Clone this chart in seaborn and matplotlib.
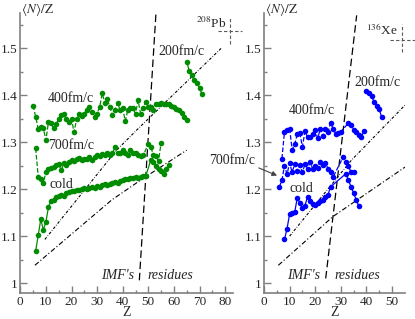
import numpy as np
import pandas as pd
import matplotlib
matplotlib.use("Agg")
import matplotlib.pyplot as plt
import seaborn as sns

sns.set_style("ticks")
plt.rcParams['font.family'] = ['Liberation Serif', 'DejaVu Serif']
plt.rcParams['mathtext.fontset'] = 'stix'

# ---------------- Left panel (208Pb, green) ----------------
pb_400_z = list(range(5, 66))
pb_400_v = [1.378, 1.354, 1.329, 1.333, 1.330, 1.304, 1.343, 1.340, 1.330, 1.338,
            1.350, 1.357, 1.360, 1.349, 1.343, 1.350, 1.321, 1.350, 1.359, 1.356,
            1.361, 1.368, 1.375, 1.364, 1.354, 1.361, 1.375, 1.404, 1.384, 1.391,
            1.375, 1.357, 1.368, 1.384, 1.368, 1.372, 1.345, 1.368, 1.372, 1.372,
            1.361, 1.389, 1.361, 1.372, 1.386, 1.375, 1.374, 1.368, 1.382, 1.382,
            1.384, 1.381, 1.382, 1.382, 1.377, 1.374, 1.371, 1.368, 1.362, 1.354,
            1.348]

pb_700_z = list(range(6, 49)) + [50, 51, 52, 53, 54, 55]
pb_700_v = [1.287, 1.226, 1.222, 1.213, 1.236, 1.243, 1.245, 1.248, 1.252, 1.254,
            1.240, 1.255, 1.252, 1.258, 1.262, 1.260, 1.264, 1.266, 1.262, 1.265,
            1.265, 1.268, 1.262, 1.268, 1.272, 1.270, 1.275, 1.272, 1.278, 1.272,
            1.276, 1.290, 1.276, 1.278, 1.284, 1.278, 1.272, 1.284, 1.278, 1.276,
            1.272, 1.270, 1.272,
            1.296, 1.290, 1.272, 1.270, 1.260, 1.299]

pb_cold_z = list(range(6, 50)) + [51, 52, 53, 54, 55, 56, 57, 58]
pb_cold_v = [1.068, 1.102, 1.136, 1.113, 1.130, 1.162, 1.175, 1.178, 1.184, 1.186,
             1.188, 1.186, 1.192, 1.195, 1.197, 1.196, 1.199, 1.198, 1.200, 1.202,
             1.200, 1.203, 1.205, 1.203, 1.207, 1.204, 1.208, 1.210, 1.209, 1.212,
             1.214, 1.215, 1.213, 1.218, 1.219, 1.221, 1.222, 1.223, 1.224, 1.225,
             1.224, 1.226, 1.227, 1.228,
             1.262, 1.258, 1.250, 1.244, 1.238, 1.232, 1.244, 1.251]

pb_200_z = [65, 66, 67, 68, 69, 70, 71]
pb_200_v = [1.471, 1.452, 1.442, 1.432, 1.426, 1.416, 1.402]

# reference lines (left)
pb_sep_z = [46.5, 53.0]
pb_sep_v = [1.006, 1.575]
pb_upper_z = [9.6, 37.6, 45.5, 78.5]
pb_upper_v = [1.093, 1.283, 1.326, 1.500]
pb_lower_z = [5.7, 35.7, 48.0, 65.0]
pb_lower_v = [1.038, 1.177, 1.223, 1.283]
pb_proj = (82, 126 / 82)

# ---------------- Right panel (136Xe, blue) ----------------
xe_400_z = list(range(7, 31)) + [33, 34, 35, 36, 37, 38, 39]
xe_400_v = [1.265, 1.322, 1.327, 1.329, 1.284, 1.296, 1.317, 1.319, 1.290, 1.323,
            1.311, 1.310, 1.318, 1.326, 1.308, 1.329, 1.313, 1.329, 1.322, 1.341,
            1.329, 1.318, 1.320, 1.322,
            1.341, 1.336, 1.327, 1.322, 1.316, 1.311, 1.323]

xe_700_z = list(range(6, 28)) + [31, 32, 33, 34, 35]
xe_700_v = [1.205, 1.219, 1.250, 1.232, 1.256, 1.236, 1.254, 1.238, 1.251, 1.236,
            1.253, 1.244, 1.257, 1.244, 1.250, 1.246, 1.258, 1.252, 1.255, 1.244,
            1.236, 1.226,
            1.269, 1.258, 1.249, 1.236, 1.236]

xe_cold_z = list(range(8, 27)) + [32, 33, 34, 35, 36, 37]
xe_cold_v = [1.093, 1.116, 1.147, 1.150, 1.151, 1.182, 1.171, 1.160, 1.165, 1.184,
             1.174, 1.168, 1.166, 1.170, 1.174, 1.178, 1.183, 1.188, 1.205,
             1.233, 1.219, 1.205, 1.192, 1.178, 1.164]

xe_200_z = [40, 41, 42, 43, 44, 45, 46]
xe_200_v = [1.409, 1.405, 1.398, 1.386, 1.377, 1.370, 1.353]

xe_sep_z = [24.1, 36.2]
xe_sep_v = [1.010, 1.570]
xe_upper_z = [10.0, 34.2, 55.1]
xe_upper_v = [1.100, 1.262, 1.379]
xe_lower_z = [5.6, 27.0, 55.1]
xe_lower_v = [1.038, 1.142, 1.247]
xe_proj = (54, 82 / 54)

GREEN = '#008c00'
BLUE = '#0000ff'
AXC = '0.5'

W, H = 415, 319
fig = plt.figure(figsize=(W / 100, H / 100), dpi=100)
yb = (319 - 293) / H
yh = (293 - 13) / H
axL = fig.add_axes([20.3 / W, yb, 83 * 2.56 / W, yh])
axR = fig.add_axes([264 / W, yb, 55 * 2.56 / W, yh])


def series(ax, z, v, color, ls):
    df = pd.DataFrame({'Z': z, 'v': v})
    sns.lineplot(data=df, x='Z', y='v', ax=ax, color=color, linestyle=ls,
                 marker='o', markersize=4.0, markeredgewidth=0, linewidth=0.9,
                 estimator=None, sort=False)


def style(ax, xmax, xticks, x_px):
    ax.set_xlim(0, xmax)
    ax.set_ylim(0.979, 1.575)
    ax.set_xticks(xticks)
    ax.set_xticks(np.arange(5, xmax, 10), minor=True)
    ax.set_yticks([1.0, 1.1, 1.2, 1.3, 1.4, 1.5])
    ax.set_yticklabels(['1', '1.1', '1.2', '1.3', '1.4', '1.5'])
    ax.set_yticks([1.05, 1.15, 1.25, 1.35, 1.45, 1.55], minor=True)
    for s in ['top', 'right']:
        ax.spines[s].set_visible(False)
    for s in ['left', 'bottom']:
        ax.spines[s].set_color(AXC)
        ax.spines[s].set_linewidth(1.2)
    ax.tick_params(which='both', direction='in', color=AXC, labelsize=9.5, pad=2)
    ax.tick_params(which='major', length=5, width=1)
    ax.tick_params(which='minor', length=2.5, width=1)
    ax.set_xlabel('Z', fontsize=10, labelpad=-1)
    ax.set_ylabel('')
    fig.text(x_px / W, 1 - 1.0 / H, r'$\langle N\rangle/\mathrm{Z}$',
             ha='left', va='top', fontsize=9.5)
    ax.patch.set_alpha(0)


def refs(ax, sep_z, sep_v, up_z, up_v, lo_z, lo_v, proj, dz, dv):
    ax.plot(sep_z, sep_v, color='k', lw=0.9, linestyle=(0, (6, 3)))
    ax.plot(up_z, up_v, color='k', lw=0.8, linestyle=(0, (2.5, 1.5, 0.6, 1.5)))
    ax.plot(lo_z, lo_v, color='k', lw=0.8, linestyle=(0, (4.5, 2, 1, 2)))
    pz, pv = proj
    ax.plot([pz - dz[0], pz + dz[1]], [pv, pv], color='0.35', lw=0.8,
            linestyle=(0, (3, 2)), clip_on=False)
    ax.plot([pz, pz], [pv - dv[0], pv + dv[1]], color='0.35', lw=0.8,
            linestyle=(0, (3, 2)), clip_on=False)


# Left panel
refs(axL, pb_sep_z, pb_sep_v, pb_upper_z, pb_upper_v, pb_lower_z, pb_lower_v,
     pb_proj, (4.8, 4.6), (0.027, 0.028))
series(axL, pb_400_z, pb_400_v, GREEN, '--')
series(axL, pb_700_z, pb_700_v, GREEN, '--')
series(axL, pb_cold_z, pb_cold_v, GREEN, '-')
series(axL, pb_200_z, pb_200_v, GREEN, '-')
style(axL, 83, np.arange(0, 81, 10), 21)
fs = 10
axL.text(19.8, 1.394, '400fm/c', ha='center', va='center', fontsize=fs)
axL.text(19.8, 1.292, '700fm/c', ha='center', va='center', fontsize=fs)
axL.text(15.9, 1.211, 'cold', ha='center', va='center', fontsize=fs)
axL.text(63.1, 1.494, '200fm/c', ha='center', va='center', fontsize=fs)
axL.text(44.3, 1.017, "IMF's", ha='right', va='center', fontsize=fs, style='italic')
axL.text(49.6, 1.017, 'residues', ha='left', va='center', fontsize=fs, style='italic')
axL.text(80.3, 1.544, r'$^{208}$Pb', ha='right', va='baseline', fontsize=9.5)

# Right panel
refs(axR, xe_sep_z, xe_sep_v, xe_upper_z, xe_upper_v, xe_lower_z, xe_lower_v,
     xe_proj, (4.8, 5.0), (0.027, 0.034))
series(axR, xe_400_z, xe_400_v, BLUE, '--')
series(axR, xe_700_z, xe_700_v, BLUE, '--')
series(axR, xe_cold_z, xe_cold_v, BLUE, '-')
series(axR, xe_200_z, xe_200_v, BLUE, '-')
style(axR, 55, np.arange(0, 51, 10), 265)
axR.text(18.75, 1.368, '400fm/c', ha='center', va='center', fontsize=fs)
axR.text(44.5, 1.426, '200fm/c', ha='center', va='center', fontsize=fs)
axR.text(14.5, 1.202, 'cold', ha='center', va='center', fontsize=fs)
axR.text(21.9, 1.017, "IMF's", ha='right', va='center', fontsize=fs, style='italic')
axR.text(27.5, 1.017, 'residues', ha='left', va='center', fontsize=fs, style='italic')
axR.text(52.4, 1.528, r'$^{136}$Xe', ha='right', va='baseline', fontsize=9.5)
axR.annotate('700fm/c', xy=(5.1, 1.229), xytext=(-12.3, 1.262),
             ha='center', va='center', fontsize=fs, annotation_clip=False,
             arrowprops=dict(arrowstyle='-|>', color='0.25', lw=0.8,
                             mutation_scale=7, shrinkA=0, shrinkB=0,
                             relpos=(1.0, 0.0)))

fig.savefig('out.png', dpi=100)
